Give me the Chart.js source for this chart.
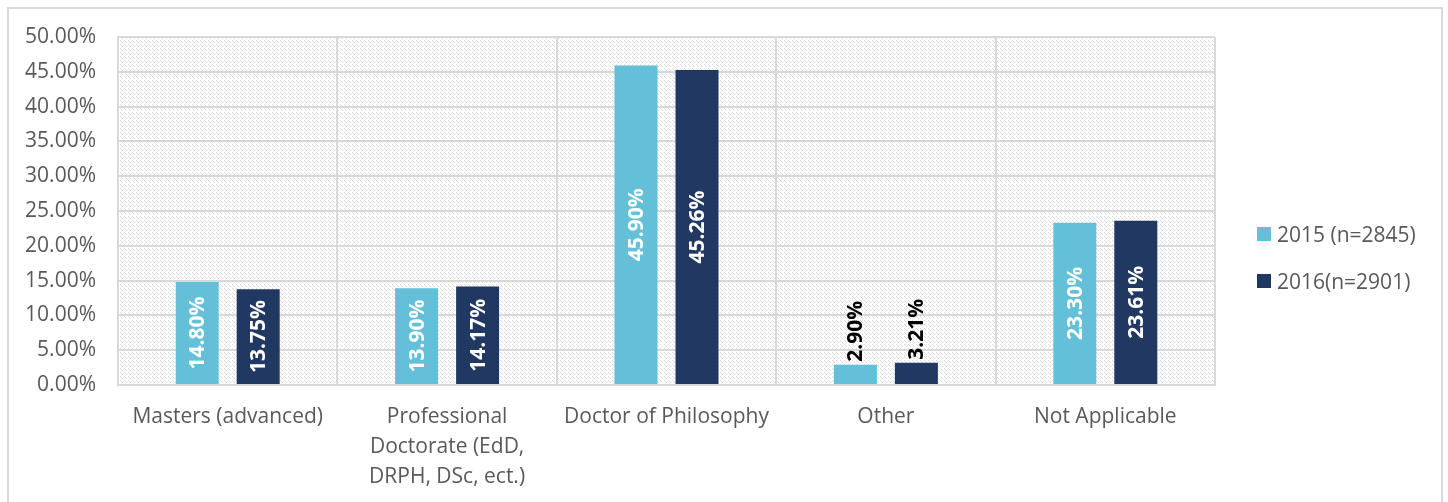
<!DOCTYPE html>
<html>
<head>
<meta charset="utf-8">
<script src="https://cdn.jsdelivr.net/npm/chart.js@4"></script>
<style>
  body { margin: 0; background: #fff; font-family: 'Open Sans', sans-serif; }
  #wrap { position: relative; width: 1448px; height: 502px; overflow: hidden; }
  #frame { position: absolute; left: 7px; top: 7px; width: 1436px; height: 520px; border: 2px solid #d9d9d9; box-sizing: border-box; }
  canvas { position: absolute; left: 0; top: 0; }
  #legend { position: absolute; left: 1257px; top: 220px; }
  .item { display: flex; align-items: center; height: 28px; margin-bottom: 19px; font-size: 21px; color: #595959; white-space: nowrap; }
  .swatch { width: 14px; height: 14px; margin-right: 6px; }
</style>
</head>
<body>
<div id="wrap">
  <div id="frame"></div>
  <canvas id="chart" width="1448" height="502"></canvas>
  <div id="legend"></div>
</div>
<script>
// categories and series (percent of respondents)
const categories = [
    'Masters (advanced)',
    ['Professional', 'Doctorate (EdD,', 'DRPH, DSc, ect.)'],
    'Doctor of Philosophy',
    'Other',
    'Not Applicable'
];
const seriesNames = ['2015 (n=2845)', '2016(n=2901)'];
const values2015 = [14.80, 13.90, 45.90, 2.90, 23.30];
const values2016 = [13.75, 14.17, 45.26, 3.21, 23.61];
const yTicks = [0, 5, 10, 15, 20, 25, 30, 35, 40, 45, 50];

const colors = ['#63c0d8', '#213862'];
const gridColor = '#d9d9d9';
const textColor = '#595959';
const fontFamily = "'Open Sans', sans-serif";

// light downward diagonal hatch, like the Excel plot area fill
function makeHatch(ctx) {
    const c = document.createElement('canvas');
    c.width = 8; c.height = 8;
    const p = c.getContext('2d');
    p.fillStyle = '#fff';
    p.fillRect(0, 0, 8, 8);
    p.fillStyle = '#dcdcdc';
    for (let i = 0; i < 8; i++) {
        if (i % 4 === 3) continue; // small breaks make the lines look dashed
        p.fillRect(i, i, 1, 1);
        p.fillRect((i + 4) % 8, i, 1, 1);
    }
    return ctx.createPattern(c, 'repeat');
}

const hatchPlugin = {
    id: 'hatch',
    beforeDraw(chart) {
        const { ctx, chartArea: a } = chart;
        ctx.save();
        ctx.fillStyle = makeHatch(ctx);
        ctx.fillRect(a.left, a.top, a.right - a.left, a.bottom - a.top);
        ctx.restore();
    }
};

// rotated value labels: centred in the bar, or just above it when too short
const valueLabels = {
    id: 'valueLabels',
    afterDatasetsDraw(chart) {
        const ctx = chart.ctx;
        ctx.save();
        ctx.font = 'bold 21px ' + fontFamily;
        ctx.textAlign = 'center';
        ctx.textBaseline = 'middle';
        chart.data.datasets.forEach((ds, di) => {
            chart.getDatasetMeta(di).data.forEach((bar, i) => {
                const text = ds.data[i].toFixed(2) + '%';
                const w = ctx.measureText(text).width;
                const h = bar.base - bar.y;
                let cy, color;
                if (w + 12 < h) {
                    cy = (bar.y + bar.base) / 2;
                    color = '#fff';
                } else {
                    cy = bar.y - 3 - w / 2;
                    color = '#000';
                }
                ctx.save();
                ctx.translate(bar.x, cy);
                ctx.rotate(-Math.PI / 2);
                ctx.fillStyle = color;
                ctx.fillText(text, 0, 1);
                ctx.restore();
            });
        });
        ctx.restore();
    }
};

const ctx = document.getElementById('chart').getContext('2d');
const chart = new Chart(ctx, {
    type: 'bar',
    data: {
        labels: categories,
        datasets: [
            { label: seriesNames[0], data: values2015, backgroundColor: colors[0] },
            { label: seriesNames[1], data: values2016, backgroundColor: colors[1] }
        ]
    },
    options: {
        responsive: false,
        animation: false,
        layout: { padding: { top: 37, right: 233, left: 0, bottom: 0 } },
        categoryPercentage: 0.556,
        barPercentage: 0.705,
        plugins: {
            legend: { display: false },
            tooltip: { enabled: false }
        },
        scales: {
            x: {
                grid: { color: gridColor, lineWidth: 2, drawTicks: false, offset: true },
                border: { color: gridColor, width: 2 },
                ticks: {
                    color: textColor,
                    font: { family: fontFamily, size: 21, lineHeight: 1.43 },
                    padding: 17,
                    maxRotation: 0,
                    autoSkip: false
                },
                afterFit: s => { s.height = 117; }
            },
            y: {
                min: 0,
                max: 50,
                afterBuildTicks: s => { s.ticks = yTicks.map(v => ({ value: v })); },
                grid: { color: gridColor, lineWidth: 2, drawTicks: false },
                border: { color: gridColor, width: 2 },
                ticks: {
                    color: textColor,
                    font: { family: fontFamily, size: 21 },
                    padding: 22,
                    callback: v => v.toFixed(2) + '%'
                },
                afterFit: s => { s.width = 118; }
            }
        }
    },
    plugins: [hatchPlugin, valueLabels]
});

// html legend built from the datasets
const legend = document.getElementById('legend');
chart.data.datasets.forEach(ds => {
    const item = document.createElement('div');
    item.className = 'item';
    item.innerHTML = '<span class="swatch" style="background:' + ds.backgroundColor + '"></span>' + ds.label;
    legend.appendChild(item);
});
</script>
</body>
</html>
